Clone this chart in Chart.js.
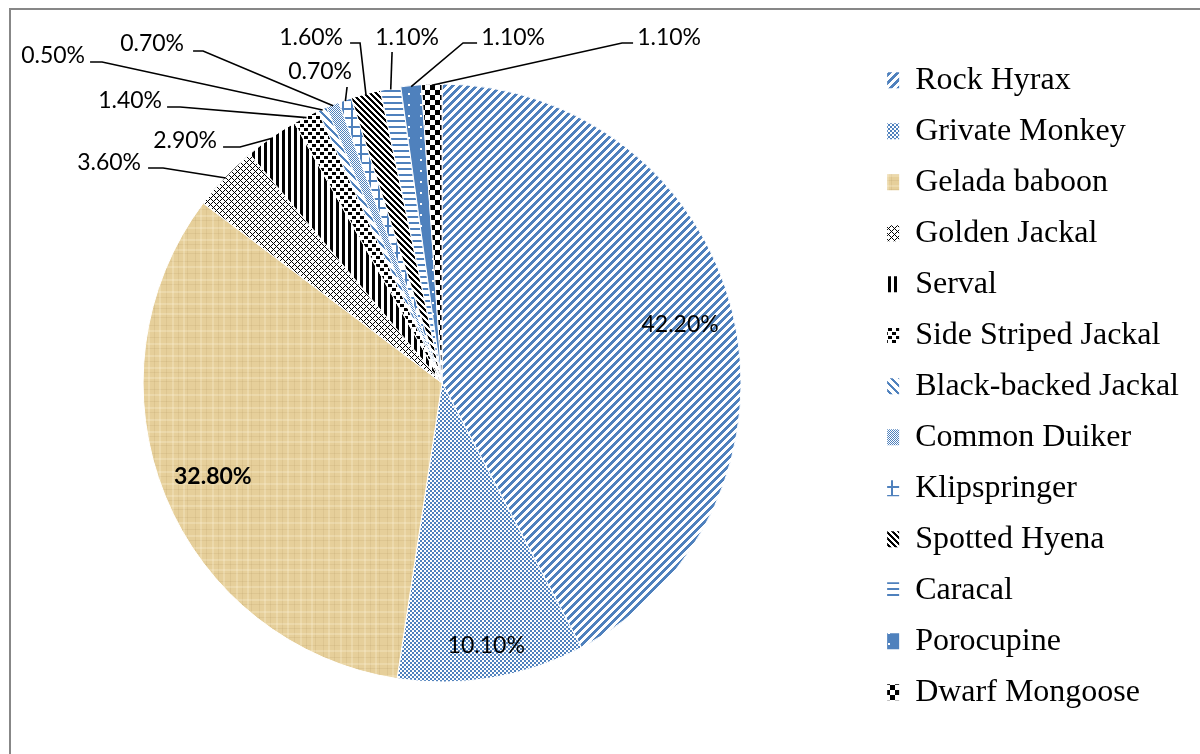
<!DOCTYPE html>
<html>
<head>
<meta charset="utf-8">
<title>Species share</title>
<script src="https://cdn.jsdelivr.net/npm/chart.js@4.4.0/dist/chart.umd.min.js"></script>
<style>
  html, body { margin: 0; padding: 0; background: #fff; }
  #wrap { position: relative; width: 1200px; height: 754px; overflow: hidden; }
  #frame { position: absolute; left: 9px; top: 8px; width: 1300px; height: 900px; border: 2px solid #878787; box-sizing: border-box; }
  #chart { position: absolute; left: 0; top: 0; }
</style>
</head>
<body>
<div id="wrap">
  <div id="frame"></div>
  <canvas id="chart" width="1200" height="754"></canvas>
</div>
<script>
// data
const species = [
  "Rock Hyrax", "Grivate Monkey", "Gelada baboon", "Golden Jackal", "Serval",
  "Side Striped Jackal", "Black-backed Jackal", "Common Duiker", "Klipspringer",
  "Spotted Hyena", "Caracal", "Porocupine", "Dwarf Mongoose"
];
const shares = [42.2, 10.1, 32.8, 3.6, 2.9, 1.4, 0.5, 0.7, 0.7, 1.6, 1.1, 1.1, 1.1];

const BLUE = "#4f81bd";
const BLACK = "#000000";
const WHITE = "#ffffff";

// fill patterns (excel style)
function makePattern(w, h, draw) {
  const c = document.createElement("canvas");
  c.width = w;
  c.height = h;
  const g = c.getContext("2d");
  draw(g, w, h);
  return g.createPattern(c, "repeat");
}

function pixelPattern(w, h, fg, test) {
  return makePattern(w, h, (g) => {
    g.fillStyle = WHITE;
    g.fillRect(0, 0, w, h);
    g.fillStyle = fg;
    for (let y = 0; y < h; y++) {
      for (let x = 0; x < w; x++) {
        if (test(x, y)) g.fillRect(x, y, 1, 1);
      }
    }
  });
}

// papyrus-ish texture for the gelada slice
const papyrus = makePattern(64, 64, (g) => {
  g.fillStyle = "#e6cf9a";
  g.fillRect(0, 0, 64, 64);
  const darkX = [3, 14, 26, 38, 50, 59];
  const lightX = [8, 20, 31, 44, 55];
  const darkY = [5, 17, 28, 41, 52, 61];
  const lightY = [10, 23, 35, 47, 57];
  g.fillStyle = "rgba(160,130,70,0.12)";
  darkX.forEach((x) => g.fillRect(x, 0, 1, 64));
  darkY.forEach((y) => g.fillRect(0, y, 64, 1));
  g.fillStyle = "rgba(255,246,222,0.25)";
  lightX.forEach((x) => g.fillRect(x, 0, 2, 64));
  lightY.forEach((y) => g.fillRect(0, y, 64, 2));
});

const fills = [
  pixelPattern(8, 8, BLUE, (x, y) => (x + y) % 8 < 4),                         // Rock Hyrax
  pixelPattern(4, 4, BLUE, (x, y) => ((x >> 1) + (y >> 1)) % 2 === 0),         // Grivate Monkey
  papyrus,                                                                     // Gelada baboon
  pixelPattern(6, 6, BLACK, (x, y) => (x + y) % 6 === 0 || (x - y + 6) % 6 === 0), // Golden Jackal
  pixelPattern(6, 6, BLACK, (x) => x % 6 < 3),                                 // Serval
  pixelPattern(8, 8, BLACK, (x, y) => ((x >> 2) + (y >> 2)) % 2 === 0 && y % 4 !== 3), // Side Striped
  pixelPattern(8, 8, BLUE, (x, y) => (x - y + 8) % 8 < 3),                     // Black-backed
  pixelPattern(2, 2, BLUE, (x, y) => (x + y) % 2 === 0),                       // Common Duiker
  pixelPattern(9, 9, BLUE, (x, y) => x % 9 < 2 || y % 9 < 2),                  // Klipspringer
  pixelPattern(6, 6, BLACK, (x, y) => (x - y + 6) % 6 < 3),                    // Spotted Hyena
  pixelPattern(6, 6, BLUE, (x, y) => y % 6 < 2),                               // Caracal
  pixelPattern(12, 11, BLUE, (x, y) => !(x < 2 && y >= 5 && y < 7)),           // Porocupine
  pixelPattern(10, 10, BLACK, (x, y) => (x < 5) !== (y < 5)),                  // Dwarf Mongoose
];

// where each percentage sits, relative to the pie centre
const labelSpots = [
  { r: 0.82 },
  { r: 0.889 },
  { r: 0.828, bold: true },
  { at: [-333, -221], leader: [[-294, -215], [-279, -215]] },
  { at: [-257, -243], leader: [[-219, -236], [-202, -236]] },
  { at: [-312, -283], leader: [[-275, -276], [-262, -276]] },
  { at: [-389, -328], leader: [[-352, -321], [-340, -321]] },
  { at: [-290, -340], leader: [[-249, -332], [-239, -332]] },
  { at: [-122, -312], leader: [[-95, -296]] },
  { at: [-131, -346], leader: [[-92, -340], [-82, -340]] },
  { at: [-35, -346], leader: [[-50, -331]] },
  { at: [71, -346], leader: [[35, -340], [21, -340]] },
  { at: [227, -346], leader: [[191, -340], [180, -340]] },
];

const pctLabels = {
  id: "pctLabels",
  afterDatasetsDraw(chart) {
    const ctx = chart.ctx;
    const meta = chart.getDatasetMeta(0);
    ctx.save();
    ctx.textAlign = "center";
    ctx.textBaseline = "middle";
    ctx.fillStyle = "#000";
    ctx.strokeStyle = "#000";
    ctx.lineWidth = 1.6;
    meta.data.forEach((arc, i) => {
      const spot = labelSpots[i];
      const text = shares[i].toFixed(2) + "%";
      const mid = (arc.startAngle + arc.endAngle) / 2;
      ctx.font = (spot.bold ? "bold " : "") + "23px Lato, 'Open Sans', sans-serif";
      if (spot.r) {
        const rr = arc.outerRadius * spot.r;
        ctx.fillText(text, arc.x + Math.cos(mid) * rr, arc.y + Math.sin(mid) * rr);
        return;
      }
      // leader line: label -> elbow -> slice edge
      const edgeR = arc.outerRadius - 1;
      ctx.beginPath();
      spot.leader.forEach((p, k) => {
        const px = arc.x + p[0];
        const py = arc.y + p[1];
        if (k === 0) ctx.moveTo(px, py);
        else ctx.lineTo(px, py);
      });
      ctx.lineTo(arc.x + Math.cos(mid) * edgeR, arc.y + Math.sin(mid) * edgeR);
      ctx.stroke();
      ctx.fillText(text, arc.x + spot.at[0], arc.y + spot.at[1] + 1);
    });
    ctx.restore();
  },
};

const chart = new Chart(document.getElementById("chart"), {
  type: "pie",
  data: {
    labels: species,
    datasets: [
      {
        data: shares,
        backgroundColor: fills,
        borderColor: WHITE,
        borderWidth: 1,
      },
    ],
  },
  options: {
    responsive: false,
    animation: false,
    events: [],
    radius: 299,
    layout: { padding: { top: 12, right: 11, bottom: 0, left: 16 } },
    plugins: {
      tooltip: { enabled: false },
      legend: {
        position: "right",
        title: { display: true, text: " ", font: { size: 2 }, padding: 2 },
        labels: {
          color: "#000",
          font: { family: "'Liberation Serif', 'Times New Roman', serif", size: 32 },
          boxWidth: 12,
          boxHeight: 16,
          padding: 19,
          generateLabels(chart) {
            const base = Chart.overrides.pie.plugins.legend.labels.generateLabels(chart);
            return base.map((item) => ({ ...item, lineWidth: 0 }));
          },
        },
      },
    },
  },
  plugins: [pctLabels],
});
</script>
</body>
</html>
